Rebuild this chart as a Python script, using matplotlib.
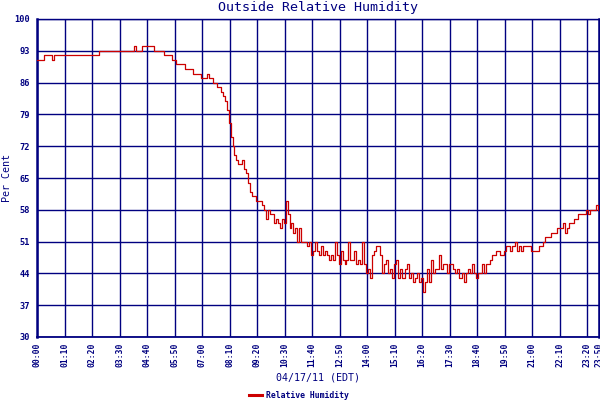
import matplotlib
matplotlib.use("Agg")
import matplotlib.pyplot as plt
import numpy as np

# Relative humidity (%) sampled every 5 minutes, one list per hour
h00 = [91, 91, 91, 91, 92, 92, 92, 92, 91, 92, 92, 92]
h01 = [92, 92, 92, 92, 92, 92, 92, 92, 92, 92, 92, 92]
h02 = [92, 92, 92, 92, 92, 92, 92, 92, 93, 93, 93, 93]
h03 = [93, 93, 93, 93, 93, 93, 93, 93, 93, 93, 93, 93]
h04 = [93, 93, 94, 93, 93, 93, 94, 94, 94, 94, 94, 94]
h05 = [93, 93, 93, 93, 93, 92, 92, 92, 92, 91, 91, 90]
h06 = [90, 90, 90, 90, 89, 89, 89, 89, 88, 88, 88, 88]
h07 = [87, 87, 87, 88, 87, 87, 86, 86, 85, 85, 84, 83]
h08 = [82, 80, 77, 74, 72, 70, 69, 68, 68, 69, 67, 66]
h09 = [64, 62, 61, 61, 60, 60, 60, 59, 58, 56, 58, 57]
h10 = [57, 55, 56, 55, 54, 56, 55, 60, 57, 54, 55, 53]
h11 = [54, 51, 54, 51, 51, 51, 50, 51, 48, 49, 51, 49]
h12 = [48, 50, 48, 49, 48, 47, 48, 47, 51, 48, 46, 49]
h13 = [47, 46, 47, 51, 47, 47, 49, 46, 47, 46, 51, 46]
h14 = [44, 45, 43, 48, 49, 50, 50, 48, 44, 46, 47, 44]
h15 = [45, 43, 46, 47, 43, 45, 43, 43, 45, 46, 43, 44]
h16 = [42, 43, 44, 42, 43, 40, 42, 45, 42, 47, 44, 45]
h17 = [45, 48, 45, 46, 46, 44, 46, 46, 45, 44, 45, 43]
h18 = [43, 44, 42, 44, 45, 44, 46, 44, 43, 44, 44, 46]
h19 = [44, 46, 46, 47, 48, 48, 49, 49, 48, 48, 49, 50]
h20 = [50, 49, 50, 50, 51, 49, 50, 49, 50, 50, 50, 50]
h21 = [49, 49, 49, 49, 50, 50, 51, 52, 52, 52, 53, 53]
h22 = [53, 54, 54, 54, 55, 53, 54, 55, 55, 55, 56, 56]
h23 = [57, 57, 57, 57, 58, 57, 58, 58, 58, 59, 58]

x_tick_labels = ["00:00", "01:10", "02:20", "03:30", "04:40", "05:50", "07:00",
                 "08:10", "09:20", "10:30", "11:40", "12:50", "14:00", "15:10",
                 "16:20", "17:30", "18:40", "19:50", "21:00", "22:10", "23:20",
                 "23:50"]
y_ticks = [30, 37, 44, 51, 58, 65, 72, 79, 86, 93, 100]

title = "Outside Relative Humidity"
y_label = "Per Cent"
x_label = "04/17/11 (EDT)"
series_name = "Relative Humidity"

hours = [h00, h01, h02, h03, h04, h05, h06, h07, h08, h09, h10, h11,
         h12, h13, h14, h15, h16, h17, h18, h19, h20, h21, h22, h23]
values = np.array([v for h in hours for v in h], dtype=float)
minutes = np.arange(len(values)) * 5

def lab_to_min(s):
    hh, mm = s.split(":")
    return int(hh) * 60 + int(mm)

x_ticks = [lab_to_min(s) for s in x_tick_labels]

NAVY = "#000080"
RED = "#CC0000"
MONO = "DejaVu Sans Mono"

fig = plt.figure(figsize=(6, 4), dpi=100)
ax = fig.add_axes([37 / 600, 1 - 337 / 400, (599 - 37) / 600, (337 - 19) / 400])

ax.plot(minutes, values, color=RED, lw=0.9, label=series_name, zorder=3,
        drawstyle="steps-mid")

ax.set_xlim(0, x_ticks[-1])
ax.set_ylim(30, 100)
ax.set_xticks(x_ticks)
ax.set_xticklabels(x_tick_labels, rotation=90, family=MONO, fontsize=5.8,
                   fontweight="bold", color=NAVY)
ax.set_yticks(y_ticks)
ax.set_yticklabels([str(v) for v in y_ticks], family=MONO, fontsize=6.2,
                   fontweight="bold", color=NAVY)
ax.tick_params(axis="both", length=0)
ax.tick_params(axis="x", pad=4)
ax.tick_params(axis="y", pad=5)

ax.grid(True, color=NAVY, lw=1.0, zorder=1)
ax.set_axisbelow(True)
for side, sp in ax.spines.items():
    sp.set_color(NAVY)
    sp.set_linewidth(1.0)
ax.spines["left"].set_linewidth(1.8)
ax.spines["right"].set_linewidth(1.8)
ax.spines["bottom"].set_linewidth(1.3)

fig.text(318 / 600, 1 - 8 / 400, title, family=MONO, fontsize=9.6,
         color=NAVY, ha="center", va="center")
fig.text(7 / 600, 1 - 178 / 400, y_label, family=MONO, fontsize=7.2,
         color=NAVY, ha="center", va="center", rotation=90)
fig.text(318 / 600, 1 - 377 / 400, x_label, family=MONO, fontsize=7.2,
         color=NAVY, ha="center", va="center")

leg = fig.legend(loc="center", bbox_to_anchor=(299 / 600, 1 - 395 / 400),
                 frameon=False, handlelength=1.6, handletextpad=0.4,
                 prop={"family": MONO, "size": 5.9, "weight": "bold"},
                 borderpad=0, borderaxespad=0)
for t in leg.get_texts():
    t.set_color(NAVY)
for l in leg.get_lines():
    l.set_linewidth(2.2)

fig.savefig("out.png", dpi=100)
